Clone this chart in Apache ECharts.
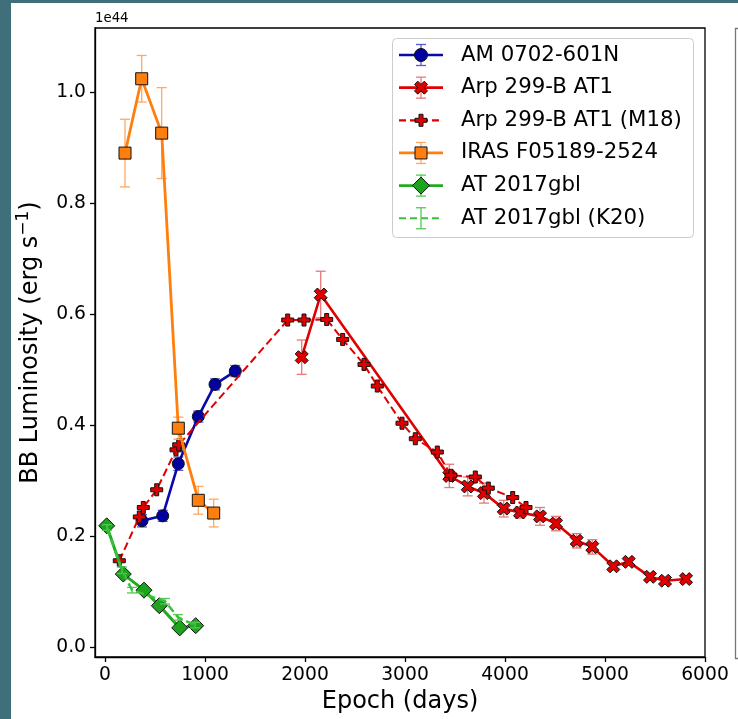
<!DOCTYPE html>
<html><head><meta charset="utf-8">
<script src="https://cdn.jsdelivr.net/npm/echarts@6/dist/echarts.min.js"></script>
<style>html,body{margin:0;padding:0;background:#fff}#c{width:738px;height:719px}</style>
</head><body><div id="c"></div>
<script>
// ---------------- data (luminosity in units of 1e44 erg/s) ----------------
const seriesNames = ['AM 0702-601N','Arp 299-B AT1','Arp 299-B AT1 (M18)','IRAS F05189-2524','AT 2017gbl','AT 2017gbl (K20)'];

const amDays = [370, 577, 733, 933, 1100, 1303];
const amLum  = [0.228, 0.237, 0.331, 0.416, 0.474, 0.498];
const amErr  = [0.011, 0.010, 0.012, 0.010, 0.010, 0.010];

const arpDays = [1967, 2157, 3443, 3627, 3790, 3987, 4150, 4350, 4510, 4717, 4873, 5083, 5237, 5450, 5600, 5810];
const arpLum  = [0.523, 0.636, 0.309, 0.290, 0.278, 0.250, 0.243, 0.236, 0.223, 0.192, 0.181, 0.146, 0.154, 0.127, 0.120, 0.123];
const arpErr  = [0.031, 0.042, 0.021, 0.017, 0.018, 0.015, 0.010, 0.016, 0.013, 0.013, 0.013, 0.006, 0.006, 0.006, 0.006, 0.006];

const m18Days = [143, 343, 383, 517, 710, 737, 1827, 1990, 2217, 2377, 2590, 2723, 2970, 3103, 3323, 3460, 3703, 3833, 4077, 4210];
const m18Lum  = [0.156, 0.235, 0.252, 0.284, 0.356, 0.365, 0.590, 0.590, 0.591, 0.555, 0.510, 0.471, 0.404, 0.376, 0.352, 0.310, 0.307, 0.287, 0.270, 0.252];

const irasDays = [200, 367, 567, 733, 933, 1087];
const irasLum  = [0.891, 1.025, 0.927, 0.395, 0.265, 0.242];
const irasErr  = [0.061, 0.042, 0.082, 0.020, 0.025, 0.025];

const gblDays = [17, 183, 390, 543, 747, 907];
const gblLum  = [0.219, 0.132, 0.103, 0.075, 0.035, 0.039];

const k20Days = [20, 170, 270, 600, 730, 900];
const k20Lum  = [0.216, 0.139, 0.103, 0.083, 0.054, 0.040];
const k20Err  = [0.005, 0.006, 0.005, 0.005, 0.005, 0.005];

const xTicks = [0, 1000, 2000, 3000, 4000, 5000, 6000];
const yTicks = [0.0, 0.2, 0.4, 0.6, 0.8, 1.0];
// --------------------------------------------------------------------------

const FONT = 'DejaVu Sans';
const C = {
  blue: '#0a0aa8', blueFill: '#0000a0', blueErr: '#5a5ad0',
  red: '#e00000', redErr: '#e87878',
  orange: '#ff7f0e', orangeErr: '#ffa860',
  green: '#22aa22', greenFill: '#1ea31e', green2: '#3cbf3c', greenErr: '#55c855'
};
const SYM_X = 'path://M158.6,582.8L300,441.4L441.4,582.8L582.8,441.4L441.4,300L582.8,158.6L441.4,17.2L300,158.6L158.6,17.2L17.2,158.6L158.6,300L17.2,441.4Z';
const SYM_P = 'path://M2,0L4,0L4,2L6,2L6,4L4,4L4,6L2,6L2,4L0,4L0,2L2,2Z';
const PTS_X = [[-1.414,2.828],[0,1.414],[1.414,2.828],[2.828,1.414],[1.414,0],[2.828,-1.414],[1.414,-2.828],[0,-1.414],[-1.414,-2.828],[-2.828,-1.414],[-1.414,0],[-2.828,1.414]];
const PTS_P = [[-1,-3],[1,-3],[1,-1],[3,-1],[3,1],[1,1],[1,3],[-1,3],[-1,1],[-3,1],[-3,-1],[-1,-1]];

const zip = (a, b) => a.map((v, i) => [v, b[i]]);
const errData = (d, v, e) => d.map((x, i) => [x, v[i] - e[i], v[i] + e[i]]);

function errSeries(data, color, z) {
  return {
    type: 'custom', data: data, z: z, silent: true,
    encode: { x: 0, y: [1, 2] },
    renderItem: function (params, api) {
      const x = api.value(0), lo = api.value(1), hi = api.value(2);
      const p1 = api.coord([x, lo]), p2 = api.coord([x, hi]);
      const st = { stroke: color, lineWidth: 1.3 };
      const cap = 5;
      return { type: 'group', children: [
        { type: 'line', shape: { x1: p1[0], y1: p1[1], x2: p2[0], y2: p2[1] }, style: st },
        { type: 'line', shape: { x1: p1[0] - cap, y1: p1[1], x2: p1[0] + cap, y2: p1[1] }, style: st },
        { type: 'line', shape: { x1: p2[0] - cap, y1: p2[1], x2: p2[0] + cap, y2: p2[1] }, style: st }
      ]};
    }
  };
}
function lineSeries(name, data, o) {
  return {
    type: 'line', name: name, data: data, z: o.z,
    symbol: o.symbol, symbolSize: o.size, showAllSymbol: true,
    lineStyle: { color: o.color, width: o.width, type: o.dash ? [8, 4] : 'solid' },
    itemStyle: { color: o.fill, borderColor: '#111', borderWidth: 1 },
    emphasis: { disabled: true }, animation: false
  };
}

const series = [
  errSeries(errData(amDays, amLum, amErr), C.blueErr, 2),
  lineSeries(seriesNames[0], zip(amDays, amLum), { symbol: 'circle', size: 12, color: C.blue, fill: C.blueFill, width: 2.6, z: 3 }),
  errSeries(errData(arpDays, arpLum, arpErr), C.redErr, 4),
  lineSeries(seriesNames[1], zip(arpDays, arpLum), { symbol: SYM_X, size: 13, color: C.red, fill: C.red, width: 2.6, z: 5 }),
  lineSeries(seriesNames[2], zip(m18Days, m18Lum), { symbol: SYM_P, size: 12, color: C.red, fill: C.red, width: 2, dash: true, z: 6 }),
  errSeries(errData(irasDays, irasLum, irasErr), C.orangeErr, 7),
  lineSeries(seriesNames[3], zip(irasDays, irasLum), { symbol: 'rect', size: 12, color: C.orange, fill: C.orange, width: 2.8, z: 8 }),
  lineSeries(seriesNames[4], zip(gblDays, gblLum), { symbol: 'diamond', size: 16, color: C.green, fill: C.greenFill, width: 3, z: 9 }),
  errSeries(errData(k20Days, k20Lum, k20Err), C.greenErr, 10),
  lineSeries(seriesNames[5], zip(k20Days, k20Lum), { symbol: 'none', size: 0, color: C.green2, fill: C.green2, width: 2.4, dash: true, z: 10 })
];

// ---- legend drawn as graphics ----
const legendRows = [
  { color: C.blue, dash: false, sym: 'circle', fill: C.blueFill, err: C.blueErr },
  { color: C.red, dash: false, sym: 'X', fill: C.red, err: C.redErr },
  { color: C.red, dash: true, sym: 'P', fill: C.red, err: null },
  { color: C.orange, dash: false, sym: 'square', fill: C.orange, err: C.orangeErr },
  { color: C.green, dash: false, sym: 'diamond', fill: C.greenFill, err: C.greenErr },
  { color: C.green2, dash: true, sym: null, fill: null, err: C.greenErr }
];
const gfx = [];
gfx.push({ type: 'rect', shape: { x: 0, y: 0, width: 738, height: 3 }, style: { fill: '#3f6f78' }, z: 100 });
gfx.push({ type: 'rect', shape: { x: 0, y: 0, width: 11, height: 719 }, style: { fill: '#3f6f78' }, z: 100 });
gfx.push({ type: 'rect', shape: { x: 735.5, y: 28.5, width: 30, height: 630 }, style: { fill: 'none', stroke: '#777', lineWidth: 1.3 }, z: 100 });
gfx.push({ type: 'text', x: 95, y: 12, style: { text: '1e44', font: '13.3px "DejaVu Sans"', fill: '#000' }, z: 100 });
gfx.push({ type: 'rect', shape: { x: 392.5, y: 38.5, width: 301, height: 199, r: 4 }, style: { fill: 'rgba(255,255,255,0.85)', stroke: '#cccccc', lineWidth: 1 }, z: 100 });
legendRows.forEach((r, i) => {
  const cy = 55 + i * 32.65, cx = 421;
  const z = 101;
  gfx.push({ type: 'line', shape: { x1: 399, y1: cy, x2: 443, y2: cy }, style: { stroke: r.color, lineWidth: r.dash ? 2.2 : 2.7, lineDash: r.dash ? [7, 4] : null }, z: z });
  if (r.err) {
    const st = { stroke: r.err, lineWidth: 1.3 };
    gfx.push({ type: 'line', shape: { x1: cx, y1: cy - 10.5, x2: cx, y2: cy + 10.5 }, style: st, z: z });
    gfx.push({ type: 'line', shape: { x1: cx - 5, y1: cy - 10.5, x2: cx + 5, y2: cy - 10.5 }, style: st, z: z });
    gfx.push({ type: 'line', shape: { x1: cx - 5, y1: cy + 10.5, x2: cx + 5, y2: cy + 10.5 }, style: st, z: z });
  }
  const ms = { fill: r.fill, stroke: '#111', lineWidth: 1 };
  if (r.sym === 'circle') gfx.push({ type: 'circle', shape: { cx: cx, cy: cy, r: 6.5 }, style: ms, z: z + 1 });
  if (r.sym === 'square') gfx.push({ type: 'rect', shape: { x: cx - 6, y: cy - 6, width: 12, height: 12 }, style: ms, z: z + 1 });
  if (r.sym === 'diamond') gfx.push({ type: 'polygon', shape: { points: [[cx, cy - 8.5], [cx + 8.5, cy], [cx, cy + 8.5], [cx - 8.5, cy]] }, style: ms, z: z + 1 });
  if (r.sym === 'X') gfx.push({ type: 'polygon', shape: { points: PTS_X.map(p => [cx + p[0] * 6.5 / 2.828, cy + p[1] * 6.5 / 2.828]) }, style: ms, z: z + 1 });
  if (r.sym === 'P') gfx.push({ type: 'polygon', shape: { points: PTS_P.map(p => [cx + p[0] * 2, cy + p[1] * 2]) }, style: ms, z: z + 1 });
  gfx.push({ type: 'text', x: 461, y: cy, style: { text: seriesNames[i], font: '21.3px "DejaVu Sans"', fill: '#000', textVerticalAlign: 'middle' }, z: z + 2 });
});

const chart = echarts.init(document.getElementById('c'), null, { renderer: 'canvas' });
chart.setOption({
  animation: false,
  backgroundColor: '#fff',
  textStyle: { fontFamily: FONT },
  grid: { left: 95, right: 33, top: 28, bottom: 62, show: true, borderColor: '#000', borderWidth: 1.3, backgroundColor: 'transparent' },
  xAxis: {
    type: 'value', min: -100, max: 6000,
    name: 'Epoch (days)', nameLocation: 'middle', nameGap: 31,
    nameTextStyle: { fontSize: 24, color: '#000', fontFamily: FONT },
    axisLine: { show: true, onZero: false, lineStyle: { color: '#000', width: 1.3 } },
    axisTick: { show: true, length: 5, customValues: xTicks, lineStyle: { color: '#000', width: 1.3 } },
    axisLabel: { customValues: xTicks, fontSize: 18.7, color: '#000', margin: 9, fontFamily: FONT, formatter: v => String(v) },
    splitLine: { show: false }
  },
  yAxis: {
    type: 'value', min: -0.0175, max: 1.1165,
    name: 'BB Luminosity (erg s{sup|−1})', nameLocation: 'middle', nameGap: 39, nameRotate: 90,
    nameTextStyle: { fontSize: 24, color: '#000', fontFamily: FONT, lineHeight: 30,
      rich: { sup: { fontSize: 17, color: '#000', fontFamily: FONT, verticalAlign: 'top', lineHeight: 30 } } },
    axisLine: { show: true, onZero: false, lineStyle: { color: '#000', width: 1.3 } },
    axisTick: { show: true, length: 5, customValues: yTicks, lineStyle: { color: '#000', width: 1.3 } },
    axisLabel: { customValues: yTicks, fontSize: 18.7, color: '#000', margin: 9, fontFamily: FONT, formatter: v => v.toFixed(1) },
    splitLine: { show: false }
  },
  series: series,
  graphic: { elements: gfx }
});
</script></body></html>
